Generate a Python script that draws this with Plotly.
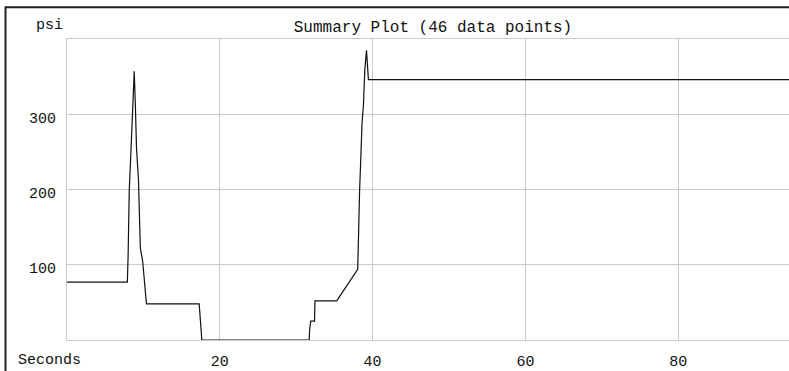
import plotly.graph_objects as go

# Data (seconds, psi)
seconds = [0, 7.9, 8.0, 8.15, 8.33, 8.5, 8.65, 8.8, 8.95, 9.1, 9.35, 9.6, 9.9, 10.15, 10.4,
           17.3, 17.45, 17.65, 31.7, 31.75, 31.9, 32.4, 32.45, 35.3, 38.05, 38.12, 38.3,
           38.45, 38.62, 38.8, 38.98, 39.2, 39.3, 39.45, 96]
psi = [77, 77, 113, 200, 241, 287, 313, 357, 311, 254, 214, 122, 105, 75, 48,
       48, 26, 0, 0, 13, 25, 25, 52, 52, 94, 138, 199,
       241, 289, 312, 359, 385, 366, 346, 346]

x_ticks = [20, 40, 60, 80]
y_ticks = [100, 200, 300]
title_text = "Summary Plot (46 data points)"
y_unit = "psi"
x_unit = "Seconds"

FONT = "Courier New, Liberation Mono, DejaVu Sans Mono, monospace"
GRID = "#cbcbcb"
INK = "#111111"

W, H = 789, 371
L, R, T, B = 67, 0, 39, 28
pw, ph = W - L - R, H - T - B

def px_x(p):
    return (p - L) / pw

def px_y(p):
    return (H - B - p) / ph

fig = go.Figure()
fig.add_trace(go.Scatter(x=seconds, y=psi, mode="lines",
                         line=dict(color=INK, width=1.2), showlegend=False,
                         hoverinfo="skip"))

fig.update_layout(
    width=W, height=H,
    margin=dict(l=L, r=R, t=T, b=B, pad=0),
    paper_bgcolor="white", plot_bgcolor="white",
    font=dict(family=FONT, size=15, color="#111111"),
    title=dict(text=title_text, xref="container", yref="container",
               x=433 / W, y=1 - 26 / H, xanchor="center", yanchor="middle",
               font=dict(family=FONT, size=16, color="#111111")),
    xaxis=dict(range=[0, 94.5], tickvals=x_ticks, ticktext=[str(v) for v in x_ticks],
               showgrid=True, gridcolor=GRID, gridwidth=1,
               showline=True, linecolor=GRID, linewidth=1, mirror=True,
               zeroline=False, ticks="", ticklabelstandoff=7,
               tickfont=dict(family=FONT, size=15, color="#111111")),
    yaxis=dict(range=[0, 400], tickvals=y_ticks, ticktext=[str(v) for v in y_ticks],
               showgrid=True, gridcolor=GRID, gridwidth=1,
               showline=True, linecolor=GRID, linewidth=1, mirror=False,
               zeroline=False, ticks="", ticklabelstandoff=7, ticklabelshift=3,
               tickfont=dict(family=FONT, size=15, color="#111111")),
    annotations=[
        dict(text=y_unit, xref="paper", yref="paper", x=px_x(49), y=px_y(25),
             xanchor="center", yanchor="middle", showarrow=False,
             font=dict(family=FONT, size=15, color="#111111")),
        dict(text=x_unit, xref="paper", yref="paper", x=px_x(49), y=px_y(364),
             xanchor="center", yanchor="middle", showarrow=False,
             font=dict(family=FONT, size=15, color="#111111")),
    ],
    shapes=[
        dict(type="rect", xref="paper", yref="paper",
             x0=px_x(5.5), x1=px_x(W + 10), y0=px_y(H + 10), y1=px_y(7),
             line=dict(color="#222222", width=2), fillcolor="rgba(0,0,0,0)",
             layer="above"),
    ],
)

fig.write_html("out.html")
